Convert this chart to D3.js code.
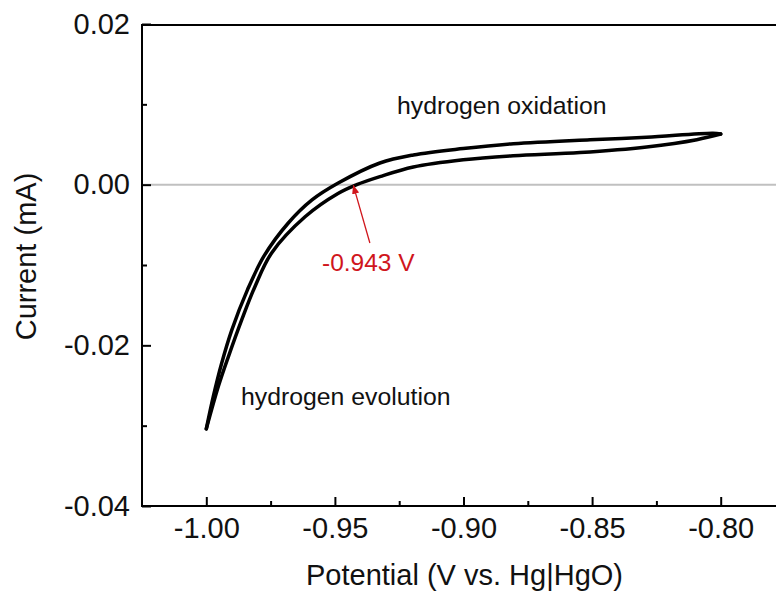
<!DOCTYPE html>
<html>
<head>
<meta charset="utf-8">
<script src="https://cdn.jsdelivr.net/npm/d3@7"></script>
<style>
  html, body { margin: 0; padding: 0; background: #fff; }
  svg { display: block; font-family: "Liberation Sans", Arial, sans-serif; }
</style>
</head>
<body>
<svg id="chart" width="776" height="592"></svg>
<script>
// ---- data (potential V vs Hg|HgO, current mA) ----
const outerPotential = [-1.000, -0.9973, -0.9940, -0.9901, -0.9840, -0.9776, -0.9682, -0.9589, -0.9487, -0.9325, -0.9195, -0.9001, -0.8806, -0.8508, -0.8288, -0.8030, -0.800];
const outerCurrent   = [-0.0304, -0.0264, -0.0222, -0.0181, -0.0131, -0.0089, -0.0048, -0.0019, 0.0002, 0.0027, 0.0037, 0.0045, 0.0051, 0.0056, 0.0059, 0.0064, 0.0063];
const innerPotential = [-1.000, -0.9953, -0.9914, -0.9862, -0.9811, -0.9746, -0.9616, -0.9488, -0.9415, -0.9325, -0.9195, -0.9001, -0.8806, -0.8547, -0.8288, -0.8093, -0.800];
const innerCurrent   = [-0.0304, -0.0251, -0.0214, -0.0168, -0.0127, -0.0085, -0.0040, -0.0011, 0.0000, 0.0010, 0.0022, 0.0031, 0.0036, 0.0040, 0.0047, 0.0056, 0.0063];

const xTickValues = [-1.00, -0.95, -0.90, -0.85, -0.80];
const xTickLabels = ["-1.00", "-0.95", "-0.90", "-0.85", "-0.80"];
const xMinorTicks = [-0.975, -0.925, -0.875, -0.825];
const yTickValues = [0.02, 0.00, -0.02, -0.04];
const yTickLabels = ["0.02", "0.00", "-0.02", "-0.04"];
const yMinorTicks = [0.01, -0.01, -0.03];

const crossingPotential = -0.943;
const crossingLabel = "-0.943 V";
const xTitle = "Potential (V vs. Hg|HgO)";
const yTitle = "Current (mA)";
const labelOxidation = "hydrogen oxidation";
const labelEvolution = "hydrogen evolution";

// ---- layout ----
const svg = d3.select("#chart");
const mLeft = 142, mRight = 785, mTop = 24, mBottom = 506;
const x = d3.scaleLinear().domain([-1.025, -0.775]).range([mLeft, mRight]);
const y = d3.scaleLinear().domain([-0.04, 0.02]).range([mBottom, mTop]);

const tickFont = 29;

// zero line
svg.append("line")
  .attr("x1", mLeft).attr("x2", 776)
  .attr("y1", y(0)).attr("y2", y(0))
  .attr("stroke", "#c0c0c0").attr("stroke-width", 2);

// axes
const gx = svg.append("g").attr("transform", `translate(0,${mBottom})`)
  .call(d3.axisBottom(x).tickValues(xTickValues).tickSize(-9).tickSizeOuter(0).tickPadding(11)
    .tickFormat((d, i) => xTickLabels[i]));
const gxm = svg.append("g").attr("transform", `translate(0,${mBottom})`)
  .call(d3.axisBottom(x).tickValues(xMinorTicks).tickSize(-5).tickSizeOuter(0).tickFormat(""));
const gy = svg.append("g").attr("transform", `translate(${mLeft},0)`)
  .call(d3.axisLeft(y).tickValues(yTickValues).tickSize(-9).tickSizeOuter(0).tickPadding(12)
    .tickFormat((d, i) => yTickLabels[i]));
const gym = svg.append("g").attr("transform", `translate(${mLeft},0)`)
  .call(d3.axisLeft(y).tickValues(yMinorTicks).tickSize(-5).tickSizeOuter(0).tickFormat(""));

[gx, gxm, gy, gym].forEach(g => {
  g.select(".domain").remove();
  g.selectAll(".tick line").attr("stroke", "#000").attr("stroke-width", 2);
  g.selectAll(".tick text").attr("fill", "#111").attr("font-size", tickFont)
    .attr("font-family", "Liberation Sans, Arial, sans-serif");
});

// frame (left, top, bottom)
svg.append("path")
  .attr("d", `M776,25 H${mLeft} V${mBottom} H776`)
  .attr("fill", "none").attr("stroke", "#000").attr("stroke-width", 2);

// curves
const outer = outerPotential.map((v, i) => [v, outerCurrent[i]]);
const inner = innerPotential.map((v, i) => [v, innerCurrent[i]]);
const line = d3.line().x(d => x(d[0])).y(d => y(d[1])).curve(d3.curveCatmullRom.alpha(0.5));
[outer, inner].forEach(data => {
  svg.append("path").attr("d", line(data))
    .attr("fill", "none").attr("stroke", "#000").attr("stroke-width", 3.5)
    .attr("stroke-linecap", "round").attr("stroke-linejoin", "round");
});

// red arrow annotation
const red = "#d0161c";
svg.append("defs").append("marker")
  .attr("id", "arrow").attr("viewBox", "0 0 10 10").attr("refX", 9).attr("refY", 5)
  .attr("markerWidth", 9).attr("markerHeight", 9).attr("orient", "auto")
  .attr("markerUnits", "userSpaceOnUse")
  .append("path").attr("d", "M0,1 L10,5 L0,9 Z").attr("fill", red);
svg.append("line")
  .attr("x1", x(-0.9364)).attr("y1", y(-0.00726))
  .attr("x2", x(crossingPotential) + 0.5).attr("y2", y(0) + 1)
  .attr("stroke", red).attr("stroke-width", 1.3)
  .attr("marker-end", "url(#arrow)");
svg.append("text").attr("x", 322).attr("y", 271)
  .attr("fill", red).attr("font-size", 24.5).text(crossingLabel);

// text annotations
svg.append("text").attr("x", 397).attr("y", 114)
  .attr("fill", "#111").attr("font-size", 24.8).text(labelOxidation);
svg.append("text").attr("x", 241).attr("y", 405)
  .attr("fill", "#111").attr("font-size", 24.8).text(labelEvolution);

// axis titles
svg.append("text").attr("x", 464.5).attr("y", 585).attr("text-anchor", "middle")
  .attr("fill", "#111").attr("font-size", 29).text(xTitle);
svg.append("text").attr("transform", "translate(36,256.5) rotate(-90)").attr("text-anchor", "middle")
  .attr("fill", "#111").attr("font-size", 29).text(yTitle);
</script>
</body>
</html>
